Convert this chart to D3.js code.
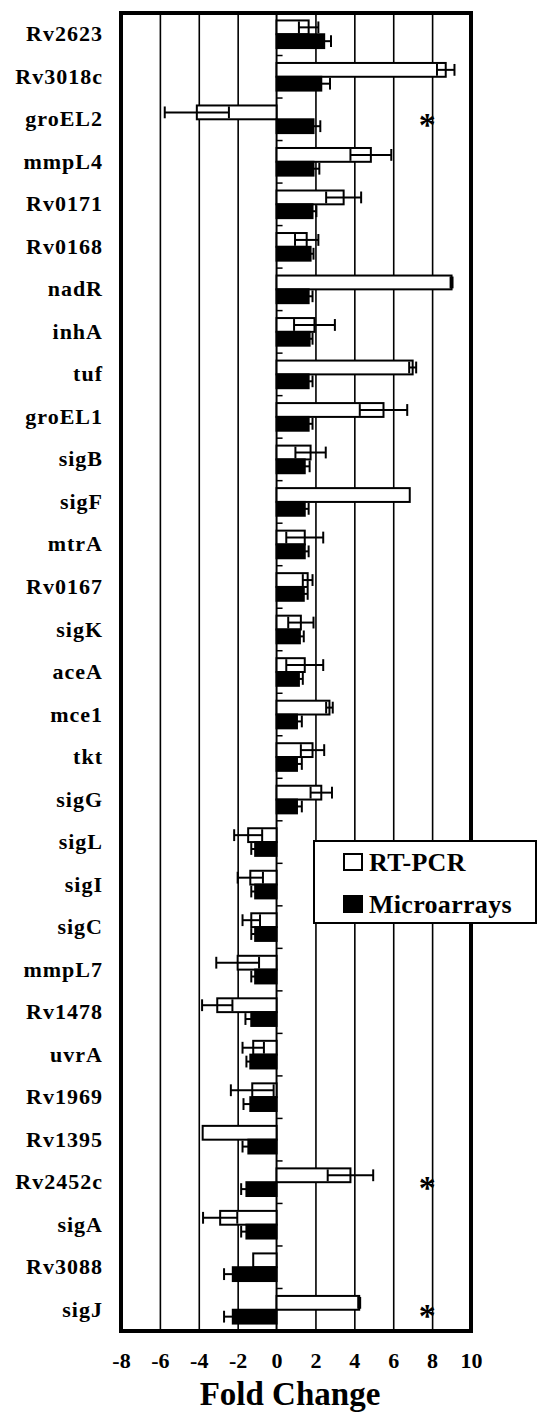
<!DOCTYPE html>
<html>
<head>
<meta charset="utf-8">
<script src="https://cdn.jsdelivr.net/npm/d3@7"></script>
<style>
  html, body { margin: 0; padding: 0; background: #fff; }
  svg { display: block; font-family: "Liberation Serif", "Times New Roman", serif; font-weight: bold; }
</style>
</head>
<body>
<svg id="chart" width="540" height="1413"></svg>
<script>
// --- Data (fold change, mean and error) ---
const genes = ["Rv2623", "Rv3018c", "groEL2", "mmpL4", "Rv0171", "Rv0168", "nadR", "inhA", "tuf", "groEL1",
  "sigB", "sigF", "mtrA", "Rv0167", "sigK", "aceA", "mce1", "tkt", "sigG", "sigL", "sigI", "sigC", "mmpL7",
  "Rv1478", "uvrA", "Rv1969", "Rv1395", "Rv2452c", "sigA", "Rv3088", "sigJ"];

const rtpcr = [1.65, 8.7, -4.1, 4.85, 3.45, 1.55, 9.0, 1.95, 7.0, 5.5,
  1.75, 6.85, 1.45, 1.6, 1.25, 1.45, 2.72, 1.85, 2.3, -1.46, -1.35, -1.3, -2.0,
  -3.05, -1.2, -1.25, -3.8, 3.8, -2.9, -1.2, 4.25];
const rtpcrErr = [0.5, 0.45, 1.65, 1.05, 0.9, 0.6, 0.05, 1.05, 0.18, 1.22,
  0.78, 0.03, 0.95, 0.25, 0.65, 0.95, 0.17, 0.6, 0.55, 0.72, 0.65, 0.45, 1.1,
  0.78, 0.55, 1.1, 0.03, 1.17, 0.88, 0.03, 0.05];

const microarray = [2.45, 2.3, 1.9, 1.9, 1.85, 1.75, 1.65, 1.7, 1.65, 1.65,
  1.45, 1.45, 1.45, 1.4, 1.2, 1.15, 1.05, 1.05, 1.05, -1.1, -1.1, -1.1, -1.1,
  -1.3, -1.35, -1.35, -1.45, -1.55, -1.55, -2.25, -2.25];
const microarrayErr = [0.35, 0.45, 0.35, 0.3, 0.2, 0.15, 0.2, 0.15, 0.2, 0.2,
  0.25, 0.2, 0.2, 0.2, 0.2, 0.2, 0.25, 0.25, 0.25, 0.2, 0.2, 0.2, 0.2,
  0.3, 0.2, 0.35, 0.3, 0.27, 0.27, 0.45, 0.45];

const seriesNames = ["RT-PCR", "Microarrays"];
const xTicks = [-8, -6, -4, -2, 0, 2, 4, 6, 8, 10];
const starred = ["groEL2", "Rv2452c", "sigJ"];
const xTitle = "Fold Change";

const svg = d3.select("#chart");

// plot frame in page coordinates
const plotLeft = 121, plotRight = 471, plotTop = 13, plotBottom = 1331;

const x = d3.scaleLinear().domain([-8, 10]).range([plotLeft, plotRight]);
const y = d3.scaleBand().domain(genes).range([plotTop, plotBottom]).paddingInner(0.35).paddingOuter(0.175);
const ySub = d3.scaleBand().domain(seriesNames).range([0, y.bandwidth()]);

// --- Vertical grid lines ---
const grid = svg.append("g")
  .attr("transform", `translate(0,${plotBottom})`)
  .call(d3.axisBottom(x).tickValues(xTicks.filter(t => t !== 0)).tickSize(-(plotBottom - plotTop)).tickFormat(""));
grid.select(".domain").remove();
grid.selectAll(".tick line").attr("stroke", "#000").attr("stroke-width", 1.6);

// --- Zero axis with small ticks between genes ---
svg.append("line")
  .attr("x1", x(0)).attr("x2", x(0))
  .attr("y1", plotTop).attr("y2", plotBottom)
  .attr("stroke", "#000").attr("stroke-width", 2);

svg.append("g")
  .selectAll("line")
  .data(genes.slice(1))
  .enter()
  .append("line")
  .attr("x1", x(0))
  .attr("x2", x(0) + 6)
  .attr("y1", (d, i) => plotTop + (i + 1) * y.step())
  .attr("y2", (d, i) => plotTop + (i + 1) * y.step())
  .attr("stroke", "#000")
  .attr("stroke-width", 1.5);

// --- Bars ---
const rows = genes.map((g, i) => ({
  gene: g,
  values: [
    { key: "RT-PCR", v: rtpcr[i], e: rtpcrErr[i] },
    { key: "Microarrays", v: microarray[i], e: microarrayErr[i] }
  ]
}));

const groups = svg.append("g")
  .selectAll("g")
  .data(rows)
  .enter()
  .append("g")
  .attr("transform", d => `translate(0,${y(d.gene)})`);

groups.selectAll("rect")
  .data(d => d.values)
  .enter()
  .append("rect")
  .attr("x", d => Math.min(x(0), x(d.v)))
  .attr("y", d => ySub(d.key))
  .attr("width", d => Math.abs(x(d.v) - x(0)))
  .attr("height", ySub.bandwidth())
  .attr("fill", d => d.key === "RT-PCR" ? "#fff" : "#000")
  .attr("stroke", "#000")
  .attr("stroke-width", 2);

// error bars (both directions, drawn over the bar)
const err = groups.selectAll("g.err")
  .data(d => d.values.filter(v => v.e > 0.04))
  .enter()
  .append("g")
  .attr("class", "err")
  .attr("stroke", "#000")
  .attr("stroke-width", 2);

err.append("line")
  .attr("x1", d => x(d.v - d.e))
  .attr("x2", d => x(d.v + d.e))
  .attr("y1", d => ySub(d.key) + ySub.bandwidth() / 2)
  .attr("y2", d => ySub(d.key) + ySub.bandwidth() / 2);

err.selectAll("line.cap")
  .data(d => [d.v - d.e, d.v + d.e].map(ex => ({ ex, key: d.key })))
  .enter()
  .append("line")
  .attr("class", "cap")
  .attr("x1", d => x(d.ex))
  .attr("x2", d => x(d.ex))
  .attr("y1", d => ySub(d.key) + 1)
  .attr("y2", d => ySub(d.key) + ySub.bandwidth() - 1);

// --- Significance marks ---
svg.append("g")
  .selectAll("text")
  .data(starred)
  .enter()
  .append("text")
  .attr("x", x(7.75))
  .attr("y", d => y(d) + y.bandwidth() / 2 + 17)
  .attr("text-anchor", "middle")
  .attr("font-size", 34)
  .text("*");

// --- Frame ---
svg.append("rect")
  .attr("x", plotLeft).attr("y", plotTop)
  .attr("width", plotRight - plotLeft).attr("height", plotBottom - plotTop)
  .attr("fill", "none")
  .attr("stroke", "#000")
  .attr("stroke-width", 4);

// --- Gene labels ---
const yAxis = svg.append("g")
  .attr("transform", `translate(${plotLeft},0)`)
  .call(d3.axisLeft(y).tickSize(0).tickPadding(18));
yAxis.select(".domain").remove();
yAxis.selectAll("text")
  .attr("font-family", "Liberation Serif, serif")
  .attr("font-weight", "bold")
  .attr("font-size", 22)
  .attr("letter-spacing", 1)
  .attr("fill", "#000");

// --- X tick labels and title (plain hyphen for negatives, as in the original) ---
const xAxis = svg.append("g")
  .attr("transform", `translate(0,${plotBottom})`)
  .call(d3.axisBottom(x).tickValues(xTicks).tickSize(0).tickPadding(21).tickFormat(d => String(d)));
xAxis.select(".domain").remove();
xAxis.selectAll("text")
  .attr("font-family", "Liberation Serif, serif")
  .attr("font-weight", "bold")
  .attr("font-size", 22)
  .attr("fill", "#000");

svg.append("text")
  .attr("x", 290)
  .attr("y", 1405)
  .attr("text-anchor", "middle")
  .attr("font-size", 33)
  .text(xTitle);

// --- Legend ---
const legend = svg.append("g").attr("transform", "translate(314,841)");
legend.append("rect")
  .attr("width", 222).attr("height", 82)
  .attr("fill", "#fff")
  .attr("stroke", "#000")
  .attr("stroke-width", 2);

const item = legend.selectAll("g.item")
  .data(seriesNames)
  .enter()
  .append("g")
  .attr("class", "item")
  .attr("transform", (d, i) => `translate(30,${21 + i * 42})`);

item.append("rect")
  .attr("y", -8)
  .attr("width", 18).attr("height", 16)
  .attr("fill", (d, i) => i === 0 ? "#fff" : "#000")
  .attr("stroke", "#000")
  .attr("stroke-width", 2);

item.append("text")
  .attr("x", 25)
  .attr("y", 9)
  .attr("font-size", 26)
  .attr("letter-spacing", 0.3)
  .text(d => d);
</script>
</body>
</html>
